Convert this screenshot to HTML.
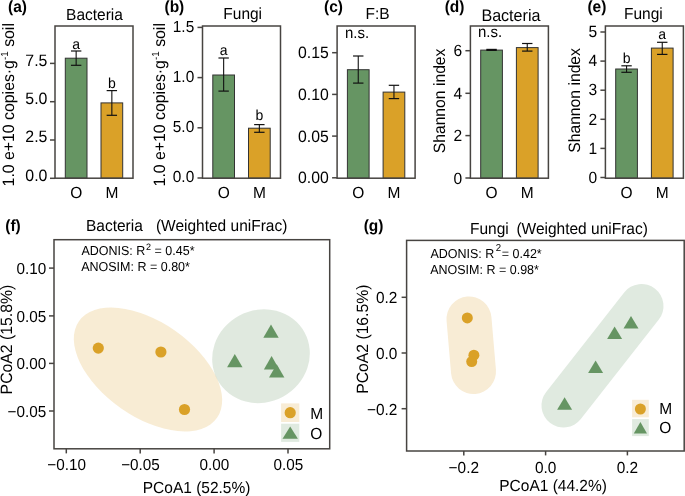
<!DOCTYPE html>
<html><head><meta charset="utf-8"><style>
html,body{margin:0;padding:0;background:#fff;}
svg{display:block;filter:blur(0.35px);}
text{font-family:"Liberation Sans",sans-serif;fill:#000;text-rendering:geometricPrecision;}
</style></head><body>
<svg width="685" height="496" viewBox="0 0 685 496">
<rect width="685" height="496" fill="#fff"/>
<rect x="65.3" y="58.2" width="21.7" height="119.99999999999999" fill="#669563" stroke="#333" stroke-width="1.0"/>
<rect x="101" y="102.9" width="21.7" height="75.29999999999998" fill="#DAA128" stroke="#333" stroke-width="1.0"/>
<line x1="76.14999999999999" y1="51" x2="76.14999999999999" y2="65.3" stroke="#111" stroke-width="1.1"/>
<line x1="70.94999999999999" y1="51" x2="81.35" y2="51" stroke="#111" stroke-width="1.2"/>
<line x1="70.94999999999999" y1="65.3" x2="81.35" y2="65.3" stroke="#111" stroke-width="1.2"/>
<line x1="111.85" y1="90.6" x2="111.85" y2="115.3" stroke="#111" stroke-width="1.1"/>
<line x1="106.64999999999999" y1="90.6" x2="117.05" y2="90.6" stroke="#111" stroke-width="1.2"/>
<line x1="106.64999999999999" y1="115.3" x2="117.05" y2="115.3" stroke="#111" stroke-width="1.2"/>
<rect x="55" y="26" width="78" height="152.2" fill="none" stroke="#474441" stroke-width="1.5"/>
<line x1="50" y1="63.4" x2="55" y2="63.4" stroke="#474441" stroke-width="1.5"/>
<text transform="translate(47.4,65.7) scale(0.9615,1)" font-size="16.54" text-anchor="end" font-weight="normal" >7.5</text>
<line x1="50" y1="101.7" x2="55" y2="101.7" stroke="#474441" stroke-width="1.5"/>
<text transform="translate(47.4,104.0) scale(0.9615,1)" font-size="16.54" text-anchor="end" font-weight="normal" >5.0</text>
<line x1="50" y1="140.0" x2="55" y2="140.0" stroke="#474441" stroke-width="1.5"/>
<text transform="translate(47.4,142.3) scale(0.9615,1)" font-size="16.54" text-anchor="end" font-weight="normal" >2.5</text>
<line x1="50" y1="178.3" x2="55" y2="178.3" stroke="#474441" stroke-width="1.5"/>
<text transform="translate(47.4,180.60000000000002) scale(0.9615,1)" font-size="16.54" text-anchor="end" font-weight="normal" >0.0</text>
<text transform="translate(76.15,48.7) scale(0.9615,1)" font-size="14.56" text-anchor="middle" font-weight="normal" >a</text>
<text transform="translate(111.85,88.1) scale(0.9615,1)" font-size="14.56" text-anchor="middle" font-weight="normal" >b</text>
<text transform="translate(94.5,19.5) scale(0.9615,1)" font-size="16.12" text-anchor="middle" font-weight="normal" >Bacteria</text>
<text transform="translate(8.0,11.6) scale(0.9615,1)" font-size="16.12" text-anchor="start" font-weight="bold" >(a)</text>
<text transform="translate(76.14999999999999,198) scale(0.9615,1)" font-size="16.12" text-anchor="middle" font-weight="normal" >O</text>
<text transform="translate(111.85,198) scale(0.9615,1)" font-size="16.12" text-anchor="middle" font-weight="normal" >M</text>
<text transform="translate(14.2,186.4) rotate(-90) scale(0.9615,1)" font-size="16.48">1.0 e+10 copies·g<tspan dy="-6.3" font-size="10.3">-1</tspan><tspan dy="6.3"> soil</tspan></text>
<rect x="212.8" y="75" width="21.7" height="103.19999999999999" fill="#669563" stroke="#333" stroke-width="1.0"/>
<rect x="248.5" y="128.2" width="21.7" height="50.0" fill="#DAA128" stroke="#333" stroke-width="1.0"/>
<line x1="223.65" y1="58" x2="223.65" y2="91.1" stroke="#111" stroke-width="1.1"/>
<line x1="218.45000000000002" y1="58" x2="228.85" y2="58" stroke="#111" stroke-width="1.2"/>
<line x1="218.45000000000002" y1="91.1" x2="228.85" y2="91.1" stroke="#111" stroke-width="1.2"/>
<line x1="259.35" y1="124.6" x2="259.35" y2="132.3" stroke="#111" stroke-width="1.1"/>
<line x1="254.15000000000003" y1="124.6" x2="264.55" y2="124.6" stroke="#111" stroke-width="1.2"/>
<line x1="254.15000000000003" y1="132.3" x2="264.55" y2="132.3" stroke="#111" stroke-width="1.2"/>
<rect x="202.5" y="26" width="78.0" height="152.2" fill="none" stroke="#474441" stroke-width="1.5"/>
<line x1="197.5" y1="27.4" x2="202.5" y2="27.4" stroke="#474441" stroke-width="1.5"/>
<text transform="translate(194.2,31.5) scale(0.9615,1)" font-size="16.02" text-anchor="end" font-weight="normal" >1.5</text>
<line x1="197.5" y1="77.6" x2="202.5" y2="77.6" stroke="#474441" stroke-width="1.5"/>
<text transform="translate(194.2,81.69999999999999) scale(0.9615,1)" font-size="16.02" text-anchor="end" font-weight="normal" >1.0</text>
<line x1="197.5" y1="127.8" x2="202.5" y2="127.8" stroke="#474441" stroke-width="1.5"/>
<text transform="translate(194.2,131.9) scale(0.9615,1)" font-size="16.02" text-anchor="end" font-weight="normal" >5.0</text>
<line x1="197.5" y1="178" x2="202.5" y2="178" stroke="#474441" stroke-width="1.5"/>
<text transform="translate(194.2,182.1) scale(0.9615,1)" font-size="16.02" text-anchor="end" font-weight="normal" >0.0</text>
<text transform="translate(223.65,55.4) scale(0.9615,1)" font-size="14.56" text-anchor="middle" font-weight="normal" >a</text>
<text transform="translate(259.35,119.6) scale(0.9615,1)" font-size="14.56" text-anchor="middle" font-weight="normal" >b</text>
<text transform="translate(242.7,19.1) scale(0.9615,1)" font-size="16.12" text-anchor="middle" font-weight="normal" >Fungi</text>
<text transform="translate(164.5,11.6) scale(0.9615,1)" font-size="16.12" text-anchor="start" font-weight="bold" >(b)</text>
<text transform="translate(223.65,198) scale(0.9615,1)" font-size="16.12" text-anchor="middle" font-weight="normal" >O</text>
<text transform="translate(259.35,198) scale(0.9615,1)" font-size="16.12" text-anchor="middle" font-weight="normal" >M</text>
<text transform="translate(164.8,186.4) rotate(-90) scale(0.9615,1)" font-size="16.48">1.0 e+10 copies·g<tspan dy="-6.3" font-size="10.3">-1</tspan><tspan dy="6.3"> soil</tspan></text>
<rect x="347.40000000000003" y="69.7" width="21.7" height="108.49999999999999" fill="#669563" stroke="#333" stroke-width="1.0"/>
<rect x="383.1" y="92.1" width="21.7" height="86.1" fill="#DAA128" stroke="#333" stroke-width="1.0"/>
<line x1="358.25000000000006" y1="56" x2="358.25000000000006" y2="83.1" stroke="#111" stroke-width="1.1"/>
<line x1="353.05000000000007" y1="56" x2="363.45000000000005" y2="56" stroke="#111" stroke-width="1.2"/>
<line x1="353.05000000000007" y1="83.1" x2="363.45000000000005" y2="83.1" stroke="#111" stroke-width="1.2"/>
<line x1="393.95000000000005" y1="85.3" x2="393.95000000000005" y2="98.6" stroke="#111" stroke-width="1.1"/>
<line x1="388.75000000000006" y1="85.3" x2="399.15000000000003" y2="85.3" stroke="#111" stroke-width="1.2"/>
<line x1="388.75000000000006" y1="98.6" x2="399.15000000000003" y2="98.6" stroke="#111" stroke-width="1.2"/>
<rect x="337.1" y="26" width="78.0" height="152.2" fill="none" stroke="#474441" stroke-width="1.5"/>
<line x1="332.1" y1="52.7" x2="337.1" y2="52.7" stroke="#474441" stroke-width="1.5"/>
<text transform="translate(328.8,58.2) scale(0.9615,1)" font-size="16.43" text-anchor="end" font-weight="normal" >0.15</text>
<line x1="332.1" y1="94.4" x2="337.1" y2="94.4" stroke="#474441" stroke-width="1.5"/>
<text transform="translate(328.8,99.9) scale(0.9615,1)" font-size="16.43" text-anchor="end" font-weight="normal" >0.10</text>
<line x1="332.1" y1="136.1" x2="337.1" y2="136.1" stroke="#474441" stroke-width="1.5"/>
<text transform="translate(328.8,141.6) scale(0.9615,1)" font-size="16.43" text-anchor="end" font-weight="normal" >0.05</text>
<line x1="332.1" y1="177.8" x2="337.1" y2="177.8" stroke="#474441" stroke-width="1.5"/>
<text transform="translate(328.8,183.3) scale(0.9615,1)" font-size="16.43" text-anchor="end" font-weight="normal" >0.00</text>
<text transform="translate(345.0,37.8) scale(0.9615,1)" font-size="15.6" text-anchor="start" font-weight="normal" >n.s.</text>
<text transform="translate(377.6,19.4) scale(0.9615,1)" font-size="16.12" text-anchor="middle" font-weight="normal" >F:B</text>
<text transform="translate(324.0,11.6) scale(0.9615,1)" font-size="16.12" text-anchor="start" font-weight="bold" >(c)</text>
<text transform="translate(358.25000000000006,198) scale(0.9615,1)" font-size="16.12" text-anchor="middle" font-weight="normal" >O</text>
<text transform="translate(393.95000000000005,198) scale(0.9615,1)" font-size="16.12" text-anchor="middle" font-weight="normal" >M</text>
<rect x="480.7" y="50.1" width="21.7" height="128.1" fill="#669563" stroke="#333" stroke-width="1.0"/>
<rect x="516.4" y="47.6" width="21.7" height="130.6" fill="#DAA128" stroke="#333" stroke-width="1.0"/>
<line x1="491.55" y1="49.4" x2="491.55" y2="50.4" stroke="#111" stroke-width="1.1"/>
<line x1="486.35" y1="49.4" x2="496.75" y2="49.4" stroke="#111" stroke-width="1.2"/>
<line x1="486.35" y1="50.4" x2="496.75" y2="50.4" stroke="#111" stroke-width="1.2"/>
<line x1="527.25" y1="43.5" x2="527.25" y2="51.1" stroke="#111" stroke-width="1.1"/>
<line x1="522.05" y1="43.5" x2="532.45" y2="43.5" stroke="#111" stroke-width="1.2"/>
<line x1="522.05" y1="51.1" x2="532.45" y2="51.1" stroke="#111" stroke-width="1.2"/>
<rect x="470.4" y="26" width="78.0" height="152.2" fill="none" stroke="#474441" stroke-width="1.5"/>
<line x1="465.4" y1="50.7" x2="470.4" y2="50.7" stroke="#474441" stroke-width="1.5"/>
<text transform="translate(462.09999999999997,56.2) scale(0.9615,1)" font-size="16.22" text-anchor="end" font-weight="normal" >6</text>
<line x1="465.4" y1="93.3" x2="470.4" y2="93.3" stroke="#474441" stroke-width="1.5"/>
<text transform="translate(462.09999999999997,98.8) scale(0.9615,1)" font-size="16.22" text-anchor="end" font-weight="normal" >4</text>
<line x1="465.4" y1="135.6" x2="470.4" y2="135.6" stroke="#474441" stroke-width="1.5"/>
<text transform="translate(462.09999999999997,141.1) scale(0.9615,1)" font-size="16.22" text-anchor="end" font-weight="normal" >2</text>
<line x1="465.4" y1="178" x2="470.4" y2="178" stroke="#474441" stroke-width="1.5"/>
<text transform="translate(462.09999999999997,183.5) scale(0.9615,1)" font-size="16.22" text-anchor="end" font-weight="normal" >0</text>
<text transform="translate(478.0,37.4) scale(0.9615,1)" font-size="15.6" text-anchor="start" font-weight="normal" >n.s.</text>
<text transform="translate(510.9,20.9) scale(0.9615,1)" font-size="16.74" text-anchor="middle" font-weight="normal" >Bacteria</text>
<text transform="translate(444.7,11.6) scale(0.9615,1)" font-size="16.12" text-anchor="start" font-weight="bold" >(d)</text>
<text transform="translate(491.55,198) scale(0.9615,1)" font-size="16.12" text-anchor="middle" font-weight="normal" >O</text>
<text transform="translate(527.25,198) scale(0.9615,1)" font-size="16.12" text-anchor="middle" font-weight="normal" >M</text>
<text transform="translate(444.8,153.3) rotate(-90) scale(0.9615,1)" font-size="16.33">Shannon index</text>
<rect x="615.6999999999999" y="69" width="21.7" height="109.19999999999999" fill="#669563" stroke="#333" stroke-width="1.0"/>
<rect x="651.4" y="48.1" width="21.7" height="130.1" fill="#DAA128" stroke="#333" stroke-width="1.0"/>
<line x1="626.55" y1="65.8" x2="626.55" y2="72.3" stroke="#111" stroke-width="1.1"/>
<line x1="621.3499999999999" y1="65.8" x2="631.75" y2="65.8" stroke="#111" stroke-width="1.2"/>
<line x1="621.3499999999999" y1="72.3" x2="631.75" y2="72.3" stroke="#111" stroke-width="1.2"/>
<line x1="662.25" y1="42.3" x2="662.25" y2="54.4" stroke="#111" stroke-width="1.1"/>
<line x1="657.05" y1="42.3" x2="667.45" y2="42.3" stroke="#111" stroke-width="1.2"/>
<line x1="657.05" y1="54.4" x2="667.45" y2="54.4" stroke="#111" stroke-width="1.2"/>
<rect x="605.4" y="26" width="78.0" height="152.2" fill="none" stroke="#474441" stroke-width="1.5"/>
<line x1="600.4" y1="32" x2="605.4" y2="32" stroke="#474441" stroke-width="1.5"/>
<text transform="translate(597.1,37.2) scale(0.9615,1)" font-size="16.22" text-anchor="end" font-weight="normal" >5</text>
<line x1="600.4" y1="61.1" x2="605.4" y2="61.1" stroke="#474441" stroke-width="1.5"/>
<text transform="translate(597.1,66.3) scale(0.9615,1)" font-size="16.22" text-anchor="end" font-weight="normal" >4</text>
<line x1="600.4" y1="90.2" x2="605.4" y2="90.2" stroke="#474441" stroke-width="1.5"/>
<text transform="translate(597.1,95.4) scale(0.9615,1)" font-size="16.22" text-anchor="end" font-weight="normal" >3</text>
<line x1="600.4" y1="119.3" x2="605.4" y2="119.3" stroke="#474441" stroke-width="1.5"/>
<text transform="translate(597.1,124.5) scale(0.9615,1)" font-size="16.22" text-anchor="end" font-weight="normal" >2</text>
<line x1="600.4" y1="148.4" x2="605.4" y2="148.4" stroke="#474441" stroke-width="1.5"/>
<text transform="translate(597.1,153.6) scale(0.9615,1)" font-size="16.22" text-anchor="end" font-weight="normal" >1</text>
<line x1="600.4" y1="177.5" x2="605.4" y2="177.5" stroke="#474441" stroke-width="1.5"/>
<text transform="translate(597.1,182.7) scale(0.9615,1)" font-size="16.22" text-anchor="end" font-weight="normal" >0</text>
<text transform="translate(626.55,62.9) scale(0.9615,1)" font-size="14.56" text-anchor="middle" font-weight="normal" >b</text>
<text transform="translate(662.25,39.300000000000004) scale(0.9615,1)" font-size="14.56" text-anchor="middle" font-weight="normal" >a</text>
<text transform="translate(643.4,19.4) scale(0.9615,1)" font-size="16.12" text-anchor="middle" font-weight="normal" >Fungi</text>
<text transform="translate(587.4,11.6) scale(0.9615,1)" font-size="16.12" text-anchor="start" font-weight="bold" >(e)</text>
<text transform="translate(626.55,198) scale(0.9615,1)" font-size="16.12" text-anchor="middle" font-weight="normal" >O</text>
<text transform="translate(662.25,198) scale(0.9615,1)" font-size="16.12" text-anchor="middle" font-weight="normal" >M</text>
<text transform="translate(579.6,152.8) rotate(-90) scale(0.9615,1)" font-size="16.33">Shannon index</text>
<ellipse cx="148" cy="369.5" rx="84.3" ry="47.3" transform="rotate(35 148 369.5)" fill="#DAA128" fill-opacity="0.2"/>
<ellipse cx="261" cy="356.2" rx="49.6" ry="46.1" transform="rotate(-28.5 261 356.2)" fill="#649160" fill-opacity="0.2"/>
<circle cx="98.3" cy="348.1" r="5.6" fill="#DAA128"/>
<circle cx="160.9" cy="352" r="5.6" fill="#DAA128"/>
<circle cx="184.5" cy="409.5" r="5.6" fill="#DAA128"/>
<polygon points="271,324.4 263.3,337.7 278.7,337.7" fill="#669563"/>
<polygon points="234.8,353.9 227.10000000000002,367.2 242.5,367.2" fill="#669563"/>
<polygon points="271.6,356.1 263.90000000000003,369.40000000000003 279.3,369.40000000000003" fill="#669563"/>
<polygon points="276.7,364.3 269.0,377.6 284.4,377.6" fill="#669563"/>
<rect x="54" y="239.7" width="275.7" height="209.10000000000002" fill="none" stroke="#474441" stroke-width="1.5"/>
<line x1="49" y1="268.1" x2="54" y2="268.1" stroke="#474441" stroke-width="1.5"/>
<text transform="translate(46.2,274.1) scale(0.9615,1)" font-size="15.91" text-anchor="end" font-weight="normal" >0.10</text>
<line x1="49" y1="315.9" x2="54" y2="315.9" stroke="#474441" stroke-width="1.5"/>
<text transform="translate(46.2,321.9) scale(0.9615,1)" font-size="15.91" text-anchor="end" font-weight="normal" >0.05</text>
<line x1="49" y1="363.4" x2="54" y2="363.4" stroke="#474441" stroke-width="1.5"/>
<text transform="translate(46.2,369.4) scale(0.9615,1)" font-size="15.91" text-anchor="end" font-weight="normal" >0.00</text>
<line x1="49" y1="411" x2="54" y2="411" stroke="#474441" stroke-width="1.5"/>
<text transform="translate(46.2,417.0) scale(0.9615,1)" font-size="15.91" text-anchor="end" font-weight="normal" >−0.05</text>
<line x1="66.3" y1="448.8" x2="66.3" y2="453.40000000000003" stroke="#474441" stroke-width="1.5"/>
<text transform="translate(66.6,469.8) scale(0.9615,1)" font-size="15.91" text-anchor="middle" font-weight="normal" >−0.10</text>
<line x1="140.2" y1="448.8" x2="140.2" y2="453.40000000000003" stroke="#474441" stroke-width="1.5"/>
<text transform="translate(140.5,469.8) scale(0.9615,1)" font-size="15.91" text-anchor="middle" font-weight="normal" >−0.05</text>
<line x1="214.1" y1="448.8" x2="214.1" y2="453.40000000000003" stroke="#474441" stroke-width="1.5"/>
<text transform="translate(214.4,469.8) scale(0.9615,1)" font-size="15.91" text-anchor="middle" font-weight="normal" >0.00</text>
<line x1="288" y1="448.8" x2="288" y2="453.40000000000003" stroke="#474441" stroke-width="1.5"/>
<text transform="translate(288.3,469.8) scale(0.9615,1)" font-size="15.91" text-anchor="middle" font-weight="normal" >0.05</text>
<text transform="translate(196.6,492.6) scale(0.9615,1)" font-size="16.12" text-anchor="middle" font-weight="normal" >PCoA1 (52.5%)</text>
<text transform="translate(12.2,394.4) rotate(-90) scale(0.9615,1)" font-size="16.43">PCoA2 (15.8%)</text>
<text transform="translate(86.0,230.5) scale(0.9615,1)" font-size="16.12" text-anchor="start" font-weight="normal" >Bacteria</text>
<text transform="translate(155.9,230.5) scale(0.9615,1)" font-size="16.12" text-anchor="start" font-weight="normal" >(Weighted uniFrac)</text>
<text transform="translate(5.3,230.6) scale(0.9615,1)" font-size="16.12" text-anchor="start" font-weight="bold" >(f)</text>
<text transform="translate(81.4,254.7) scale(0.9615,1)" font-size="13.0" text-anchor="start" font-weight="normal" >ADONIS: R<tspan dx="0.8" dy="-5.0" font-size="9.4">2</tspan><tspan dy="5.0"> = 0.45*</tspan></text>
<text transform="translate(81.2,270.6) scale(0.9615,1)" font-size="13.0" text-anchor="start" font-weight="normal" >ANOSIM: R = 0.80*</text>
<rect x="281.1" y="403.4" width="18.2" height="18.6" fill="#F8ECD5" stroke="none" stroke-width="0"/>
<rect x="281.1" y="423.7" width="18.2" height="18.2" fill="#E0EAE0" stroke="none" stroke-width="0"/>
<circle cx="290.2" cy="412.7" r="5.6" fill="#DAA128"/>
<polygon points="290.2,426.5 282.5,438.7 297.9,438.7" fill="#669563"/>
<text transform="translate(310.2,418.5) scale(0.9615,1)" font-size="16.12" text-anchor="start" font-weight="normal" >M</text>
<text transform="translate(310.2,438.8) scale(0.9615,1)" font-size="16.12" text-anchor="start" font-weight="normal" >O</text>
<line x1="469" y1="319" x2="473.5" y2="371.5" stroke="#F8ECD5" stroke-width="45" stroke-linecap="round"/>
<line x1="563.5" y1="405.5" x2="641.5" y2="306" stroke="#E0EAE0" stroke-width="44" stroke-linecap="round"/>
<circle cx="467.3" cy="317.9" r="5.5" fill="#DAA128"/>
<circle cx="473.9" cy="355.2" r="5.5" fill="#DAA128"/>
<circle cx="471.7" cy="361.6" r="5.5" fill="#DAA128"/>
<polygon points="631,316.1 623.5,328.6 638.5,328.6" fill="#669563"/>
<polygon points="614.6,326.6 607.1,339.1 622.1,339.1" fill="#669563"/>
<polygon points="595.6,360.4 588.1,372.9 603.1,372.9" fill="#669563"/>
<polygon points="564.6,397.2 557.1,409.7 572.1,409.7" fill="#669563"/>
<rect x="406.6" y="240.4" width="277.6" height="210.6" fill="none" stroke="#474441" stroke-width="1.5"/>
<line x1="401.6" y1="297.3" x2="406.6" y2="297.3" stroke="#474441" stroke-width="1.5"/>
<text transform="translate(397.40000000000003,303.1) scale(0.9615,1)" font-size="16.02" text-anchor="end" font-weight="normal" >0.2</text>
<line x1="401.6" y1="353.0" x2="406.6" y2="353.0" stroke="#474441" stroke-width="1.5"/>
<text transform="translate(397.40000000000003,358.8) scale(0.9615,1)" font-size="16.02" text-anchor="end" font-weight="normal" >0.0</text>
<line x1="401.6" y1="408.7" x2="406.6" y2="408.7" stroke="#474441" stroke-width="1.5"/>
<text transform="translate(397.40000000000003,414.5) scale(0.9615,1)" font-size="16.02" text-anchor="end" font-weight="normal" >−0.2</text>
<line x1="463.8" y1="451" x2="463.8" y2="455.4" stroke="#474441" stroke-width="1.5"/>
<text transform="translate(463.8,472.6) scale(0.9615,1)" font-size="16.02" text-anchor="middle" font-weight="normal" >−0.2</text>
<line x1="545.6" y1="451" x2="545.6" y2="455.4" stroke="#474441" stroke-width="1.5"/>
<text transform="translate(545.6,472.6) scale(0.9615,1)" font-size="16.02" text-anchor="middle" font-weight="normal" >0.0</text>
<line x1="627.4" y1="451" x2="627.4" y2="455.4" stroke="#474441" stroke-width="1.5"/>
<text transform="translate(627.4,472.6) scale(0.9615,1)" font-size="16.02" text-anchor="middle" font-weight="normal" >0.2</text>
<text transform="translate(553.1,491.3) scale(0.9615,1)" font-size="16.12" text-anchor="middle" font-weight="normal" >PCoA1 (44.2%)</text>
<text transform="translate(367.8,393.7) rotate(-90) scale(0.9615,1)" font-size="16.33">PCoA2 (16.5%)</text>
<text transform="translate(470.0,234) scale(0.9615,1)" font-size="16.12" text-anchor="start" font-weight="normal" >Fungi</text>
<text transform="translate(516.4,234) scale(0.9615,1)" font-size="16.12" text-anchor="start" font-weight="normal" >(Weighted uniFrac)</text>
<text transform="translate(363.7,230.6) scale(0.9615,1)" font-size="16.12" text-anchor="start" font-weight="bold" >(g)</text>
<text transform="translate(430.4,258) scale(0.9615,1)" font-size="13.0" text-anchor="start" font-weight="normal" >ADONIS: R<tspan dx="1.6" dy="-6.8" font-size="10.0">2</tspan><tspan dy="6.8" dx="0.6">= 0.42*</tspan></text>
<text transform="translate(430.2,273.8) scale(0.9615,1)" font-size="13.0" text-anchor="start" font-weight="normal" >ANOSIM: R = 0.98*</text>
<rect x="632.1" y="399.8" width="16.7" height="17.5" fill="#F8ECD5" stroke="none" stroke-width="0"/>
<rect x="632.1" y="419.1" width="16.7" height="17.0" fill="#E0EAE0" stroke="none" stroke-width="0"/>
<circle cx="640.4" cy="409" r="5.5" fill="#DAA128"/>
<polygon points="640.4,422.1 633.8,433.5 647.0,433.5" fill="#669563"/>
<text transform="translate(659.2,414.2) scale(0.9615,1)" font-size="16.12" text-anchor="start" font-weight="normal" >M</text>
<text transform="translate(659.2,433.3) scale(0.9615,1)" font-size="16.12" text-anchor="start" font-weight="normal" >O</text>
</svg>
</body></html>
